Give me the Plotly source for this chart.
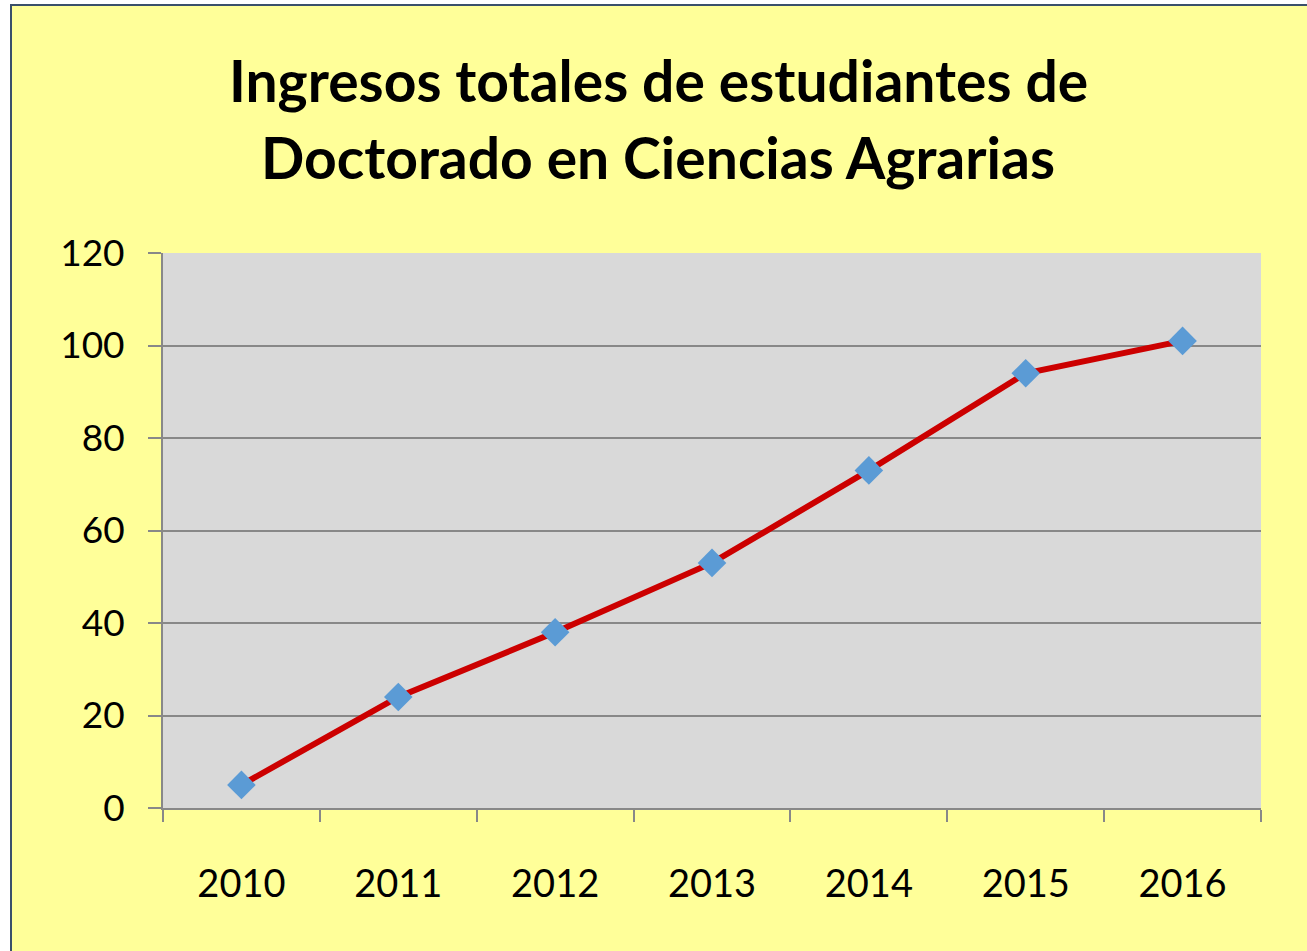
import plotly.graph_objects as go

years = ["2010", "2011", "2012", "2013", "2014", "2015", "2016"]
ingresos = [5, 24, 38, 53, 73, 94, 101]
y_ticks = [0, 20, 40, 60, 80, 100, 120]
title_lines = ["Ingresos totales de estudiantes de", "Doctorado en Ciencias Agrarias"]

W, H = 1307, 951
L, R, T, B = 163, 1261, 253, 808

fig = go.Figure()
fig.add_trace(go.Scatter(
    x=years, y=ingresos, mode="lines+markers",
    line=dict(color="#CC0000", width=6),
    marker=dict(symbol="diamond", size=22, color="#5B9BD5"),
    showlegend=False,
))

pw, ph = R - L, B - T
def px_x(p):
    return (p - L) / pw
def px_y(p):
    return (B - p) / ph

# chart area background with border
fig.add_shape(type="rect", xref="paper", yref="paper",
              x0=px_x(11), x1=px_x(1330), y0=px_y(980), y1=px_y(5),
              fillcolor="#FFFF99", line=dict(color="#3A506B", width=2), layer="below")
# plot area background
fig.add_shape(type="rect", xref="paper", yref="paper",
              x0=0, x1=1, y0=0, y1=1,
              fillcolor="#D9D9D9", line=dict(width=0), layer="below")

# title lines
for txt, yc in zip(title_lines, [80, 157]):
    fig.add_annotation(text="<b>" + txt + "</b>", xref="paper", yref="paper",
                       x=px_x(658), y=px_y(yc), xanchor="center", yanchor="middle",
                       showarrow=False,
                       font=dict(size=57, family="Lato, Carlito, sans-serif", color="black"))

fig.update_layout(
    width=W, height=H,
    margin=dict(l=L, r=W - R, t=T, b=H - B, pad=0),
    paper_bgcolor="white",
    plot_bgcolor="rgba(0,0,0,0)",
    font=dict(family="Lato, Carlito, sans-serif", color="black"),
)
fig.update_xaxes(
    type="category", tickson="boundaries", ticks="outside", ticklen=12,
    tickwidth=2, tickcolor="#888888", showline=True, linecolor="#888888", linewidth=2,
    showgrid=False, tickfont=dict(size=38), ticklabelstandoff=41,
    range=[-0.5, 6.5],
)
fig.update_yaxes(
    range=[0, 120], tickvals=y_ticks, ticks="outside", ticklen=13, tickwidth=2,
    tickcolor="#888888", showline=True, linecolor="#888888", linewidth=2,
    showgrid=True, gridcolor="#888888", gridwidth=2, zeroline=False,
    tickfont=dict(size=37), ticklabelstandoff=16,
)

fig.write_html("out.html", config={"displayModeBar": False},
               post_script="document.body.style.margin='0';document.body.style.overflow='hidden';")
